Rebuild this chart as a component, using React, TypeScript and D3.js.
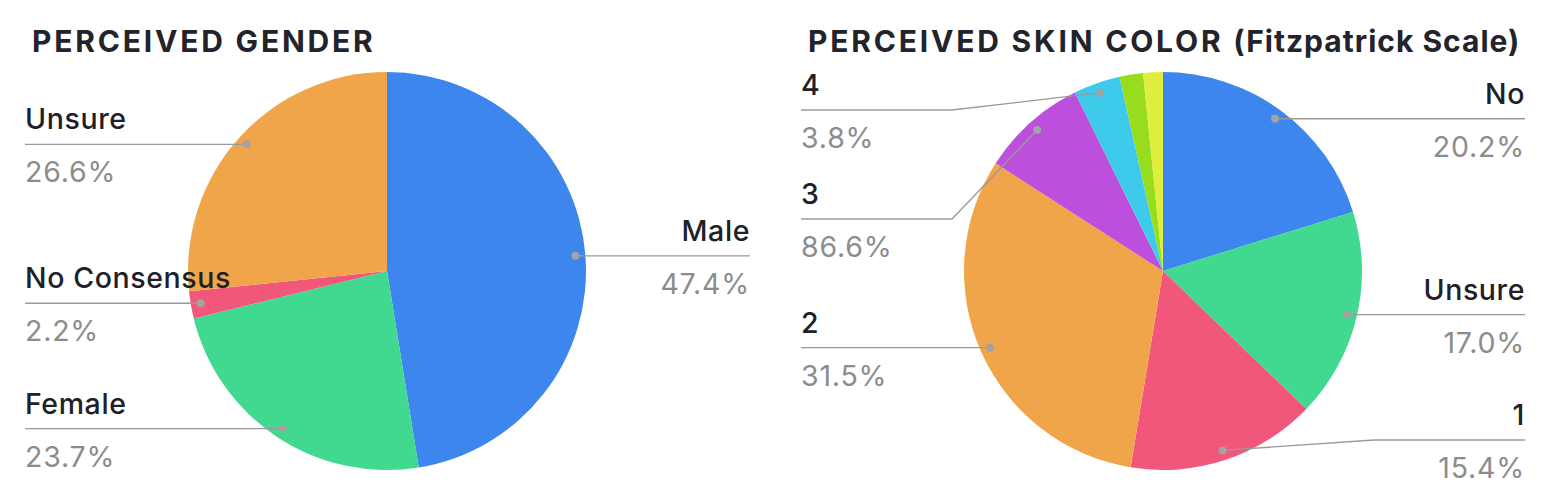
import React from "react";
import * as d3 from "d3";

// Perceived gender shares (percent), clockwise from 12 o'clock
const genderCategories = ["Male", "Female", "No Consensus", "Unsure"];
const genderValues = [47.4, 23.7, 2.2, 26.6];
const genderColors = ["#3d86ee", "#41d88f", "#f1577b", "#f1a54a"];

// Perceived skin colour shares (percent), clockwise from 12 o'clock
const skinCategories = ["No", "Unsure", "1", "2", "3", "4", "5", "6"];
const skinValues = [20.2, 17.0, 15.4, 31.5, 8.6, 3.8, 1.9, 1.6];
const skinValueLabels = ["20.2%", "17.0%", "15.4%", "31.5%", "86.6%", "3.8%", "", ""];
const skinColors = ["#3d86ee", "#41d88f", "#f1577b", "#f1a54a", "#bc4fdc", "#3ecaea", "#98dc1e", "#dfee3c"];

type LabelSpec = { side: "left" | "right"; lineY?: number } | null;

interface PieSpec {
  title: string;
  subtitle: string;
  titleX: number;
  categories: string[];
  values: number[];
  valueLabels: string[];
  colors: string[];
  cx: number;
  cy: number;
  r: number;
  leftX: number;
  rightX: number;
  labels: LabelSpec[];
}

const FONT = "Inter, 'Liberation Sans', Arial, sans-serif";

const charts: PieSpec[] = [
  {
    title: "PERCEIVED GENDER",
    subtitle: "",
    titleX: 32,
    categories: genderCategories,
    values: genderValues,
    valueLabels: genderValues.map((v) => `${v.toFixed(1)}%`),
    colors: genderColors,
    cx: 387,
    cy: 271,
    r: 199,
    leftX: 25,
    rightX: 750,
    labels: [{ side: "right" }, { side: "left" }, { side: "left" }, { side: "left" }],
  },
  {
    title: "PERCEIVED SKIN COLOR ",
    subtitle: "(Fitzpatrick Scale)",
    titleX: 808,
    categories: skinCategories,
    values: skinValues,
    valueLabels: skinValueLabels,
    colors: skinColors,
    cx: 1163,
    cy: 271,
    r: 199,
    leftX: 801,
    rightX: 1525,
    labels: [
      { side: "right" },
      { side: "right" },
      { side: "right", lineY: 440 },
      { side: "left" },
      { side: "left", lineY: 219 },
      { side: "left", lineY: 110 },
      null,
      null,
    ],
  },
];

const KINK = 151;

function Pie({ spec }: { spec: PieSpec }) {
  const pie = d3
    .pie<number>()
    .sort(null)
    .value((d) => d)
    .startAngle(0)
    .endAngle(2 * Math.PI);
  const arcs = pie(spec.values);
  const arc = d3.arc<d3.PieArcDatum<number>>().innerRadius(0).outerRadius(spec.r);
  const line = d3.line();

  return (
    <g>
      <text x={spec.titleX} y={52} fontFamily={FONT} fontWeight={700} fontSize={30} fill="#23232b">
        <tspan letterSpacing={2.8}>{spec.title}</tspan>
        {spec.subtitle ? <tspan letterSpacing={1.0}>{spec.subtitle}</tspan> : null}
      </text>
      <g transform={`translate(${spec.cx},${spec.cy})`}>
        {arcs.map((a, i) => (
          <path key={i} d={arc(a) ?? ""} fill={spec.colors[i]} />
        ))}
      </g>
      {arcs.map((a, i) => {
        const lab = spec.labels[i];
        if (!lab) return null;
        const mid = (a.startAngle + a.endAngle) / 2;
        const dx = spec.cx + 0.95 * spec.r * Math.sin(mid);
        const dy = spec.cy - 0.95 * spec.r * Math.cos(mid);
        const ly = lab.lineY ?? dy;
        const left = lab.side === "left";
        const ex = left ? spec.leftX : spec.rightX;
        const kx = left ? ex + KINK : ex - KINK;
        const pts: [number, number][] = [
          [ex, ly],
          [kx, ly],
          [dx, dy],
        ];
        const anchor = left ? "start" : "end";
        return (
          <g key={i}>
            <path d={line(pts) ?? ""} fill="none" stroke="#9a9a9a" strokeWidth={1.3} />
            <circle cx={dx} cy={dy} r={4} fill="#a3a3a3" />
            <text
              x={ex}
              y={ly - 15}
              textAnchor={anchor}
              fontFamily={FONT}
              fontSize={28.5}
              fontWeight={500}
              letterSpacing={0.6}
              fill="#202027"
            >
              {spec.categories[i]}
            </text>
            <text
              x={ex}
              y={ly + 38}
              textAnchor={anchor}
              fontFamily={FONT}
              fontSize={28.5}
              letterSpacing={0.8}
              fill="#8c8c8c"
            >
              {spec.valueLabels[i]}
            </text>
          </g>
        );
      })}
    </g>
  );
}

export default function App() {
  return (
    <svg
      width={1551}
      height={495}
      style={{ position: "absolute", left: 0, top: 0, background: "#ffffff" }}
    >
      {charts.map((c, i) => (
        <Pie key={i} spec={c} />
      ))}
    </svg>
  );
}
